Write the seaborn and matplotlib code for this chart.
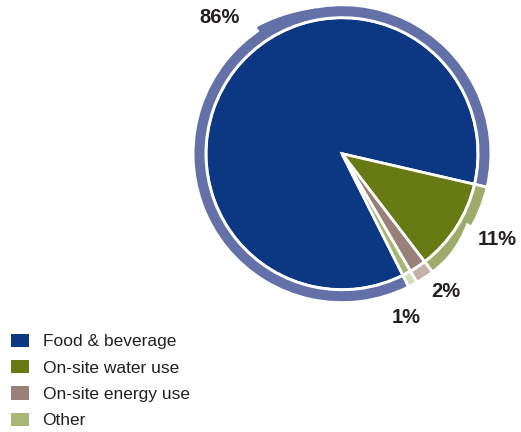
import numpy as np
import matplotlib
matplotlib.use("Agg")
import matplotlib.pyplot as plt
from matplotlib.patches import Patch
import seaborn as sns

# Share of footprint by source
categories = ["Food & beverage", "On-site water use", "On-site energy use", "Other"]
shares = [86, 11, 2, 1]

pie_colors = ["#0c3782", "#687a14", "#978179", "#a6b775"]
ring_colors = ["#6470a8", "#9dab6b", "#c3b2ab", "#d3dfbb"]
label_color = "#231f20"

# label placement (angle in degrees, distance from centre in px)
label_angles = [132, -29, -53, -68.7]
label_dists = [183, 178, 173, 176]

sns.set_theme(style="white")
plt.rcParams["font.family"] = ["Liberation Sans", "DejaVu Sans"]

W, H = 521, 432
fig = plt.figure(figsize=(W / 100, H / 100), dpi=100)
ax = fig.add_axes([0, 0, 1, 1])

cx, cy = 342.0, H - 153.7
start = -63.4
edge = dict(edgecolor="white", linewidth=2)

# inner pie
ax.pie(shares, colors=pie_colors, startangle=start, counterclock=False,
       radius=135.9, center=(cx, cy), wedgeprops=edge, frame=True)

# outer ribbon
ring_out, ring_w = 148.9, 12.8
ax.pie(shares, colors=ring_colors, startangle=start, counterclock=False,
       radius=ring_out, center=(cx, cy),
       wedgeprops=dict(width=ring_w, **edge), frame=True)

vis_out = ring_out - 1.4


def arc_band(t0, t1, r_lo, r_hi):
    t = np.radians(np.linspace(t0, t1, 60))
    lo = r_lo(np.degrees(t))
    hi = r_hi(np.degrees(t))
    xs = np.concatenate([cx + hi * np.cos(t), (cx + lo * np.cos(t))[::-1]])
    ys = np.concatenate([cy + hi * np.sin(t), (cy + lo * np.sin(t))[::-1]])
    return xs, ys


# ribbon step on the food segment: bulges outward, tapering off clockwise
s0, s1, d = 100.0, 124.0, 5.0
xs, ys = arc_band(s0, s1,
                  lambda a: np.full_like(a, vis_out - 1.0),
                  lambda a: vis_out + d * ((a - s0) / (s1 - s0)) ** 1.3)
ax.fill(xs, ys, color=ring_colors[0], lw=0)

# ribbon step on the water segment: pinched inward, recovering clockwise
w0, w1 = -46.0, -29.0
xs, ys = arc_band(w0, w1,
                  lambda a: vis_out - d * ((a - w0) / (w1 - w0)) ** 1.3,
                  lambda a: np.full_like(a, vis_out + 2.0))
ax.fill(xs, ys, color="white", lw=0)

# percentage labels
for v, ang, dist in zip(shares, label_angles, label_dists):
    a = np.radians(ang)
    ax.text(cx + dist * np.cos(a), cy + dist * np.sin(a), f"{v}%",
            ha="center", va="center", fontsize=14.5, fontweight="bold",
            color=label_color)

ax.set_xlim(0, W)
ax.set_ylim(0, H)
ax.set_aspect("equal")
ax.axis("off")

handles = [Patch(facecolor=c, edgecolor="none") for c in pie_colors]
fig.legend(handles, categories, loc="upper left",
           bbox_to_anchor=(10.5 / W, 1 - 333.5 / H), frameon=False,
           fontsize=12.5, handlelength=1.05, handleheight=0.8,
           handletextpad=0.8, labelspacing=0.62, borderpad=0,
           borderaxespad=0, labelcolor=label_color)

fig.savefig("out.png", dpi=100)
